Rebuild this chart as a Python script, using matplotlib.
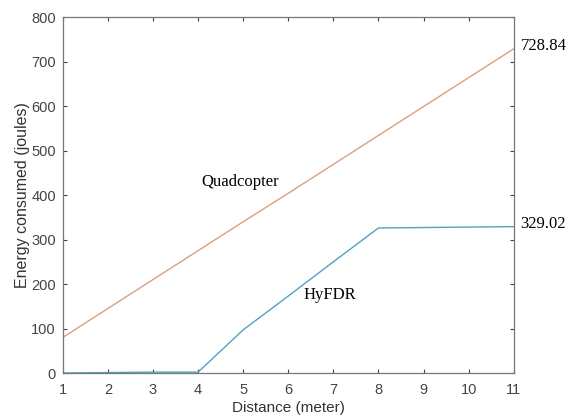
import matplotlib
matplotlib.use("Agg")
import matplotlib.pyplot as plt

distance = [1, 2, 3, 4, 5, 6, 7, 8, 9, 10, 11]
quadcopter = [80, 145, 210, 275, 340, 404, 469, 534, 599, 664, 728.84]
hyfdr = [0, 1, 2, 2, 97, 173, 250, 326, 327, 328, 329.02]

xticks = list(range(1, 12))
yticks = [0, 100, 200, 300, 400, 500, 600, 700, 800]

fig = plt.figure(figsize=(5.76, 4.17), dpi=100)
ax = fig.add_axes([0.109, 0.1055, 0.783, 0.8535])

ax.plot(distance, quadcopter, color="#D9A07E", lw=1.0)
ax.plot(distance, hyfdr, color="#4FA3BF", lw=1.0)

ax.set_xlim(1, 11)
ax.set_ylim(0, 800)
ax.set_xticks(xticks)
ax.set_yticks(yticks)

sans = "Liberation Sans"
serif = "Liberation Serif"
for lab in ax.get_xticklabels() + ax.get_yticklabels():
    lab.set_fontfamily(sans)
ax.tick_params(direction="in", top=True, right=True, labelsize=10.5,
               colors="#444444", length=3, width=0.8)
ax.tick_params(axis="x", pad=7)
ax.tick_params(axis="y", pad=5)
for sp in ax.spines.values():
    sp.set_color("#777777")
    sp.set_linewidth(0.9)

ax.set_xlabel("Distance (meter)", fontfamily=sans, fontsize=11, color="#333333", labelpad=3)
ax.set_ylabel("Energy consumed (joules)", fontfamily=sans, fontsize=11.5, color="#333333", labelpad=1)

ax.text(4.93, 429, "Quadcopter", fontfamily=serif, fontsize=12, ha="center", va="center")
ax.text(6.92, 175, "HyFDR", fontfamily=serif, fontsize=12, ha="center", va="center")
ax.text(11.15, quadcopter[-1] + 6, "728.84", fontfamily=serif, fontsize=12, ha="left", va="center", clip_on=False)
ax.text(11.15, hyfdr[-1] + 6, "329.02", fontfamily=serif, fontsize=12, ha="left", va="center", clip_on=False)

fig.savefig("out.png", dpi=100)
